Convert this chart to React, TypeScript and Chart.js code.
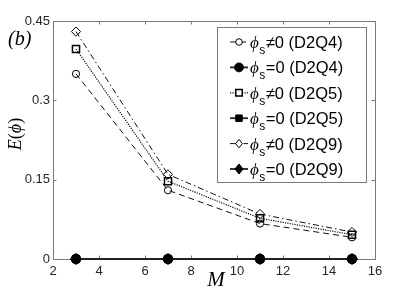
import React, { useEffect, useRef } from "react";
import { Chart, registerables } from "chart.js";

Chart.register(...registerables);

const mValues = [3, 7, 11, 15];
const d2q4NonZero = [0.35, 0.13, 0.067, 0.041];
const d2q4Zero = [0, 0, 0, 0];
const d2q5NonZero = [0.397, 0.147, 0.077, 0.046];
const d2q5Zero = [0, 0, 0, 0];
const d2q9NonZero = [0.43, 0.16, 0.085, 0.051];
const d2q9Zero = [0, 0, 0, 0];

const xTicks = [2, 4, 6, 8, 10, 12, 14, 16];
const yTicks = [0, 0.15, 0.3, 0.45];

const legendLabels = [
  { op: "≠0", model: "(D2Q4)" },
  { op: "=0", model: "(D2Q4)" },
  { op: "≠0", model: "(D2Q5)" },
  { op: "=0", model: "(D2Q5)" },
  { op: "≠0", model: "(D2Q9)" },
  { op: "=0", model: "(D2Q9)" },
];

const FRAME = "#7a7a7a";
const TEXT = "#262626";
const SANS = '"Liberation Sans", Arial, sans-serif';
const SERIF = '"Liberation Serif", "DejaVu Serif", "Times New Roman", serif';

const styles = [
  { dash: [6, 4], pointStyle: "circle", radius: 3.6, fill: "rgba(0,0,0,0)", width: 1, lineColor: "#111", pbw: 1 },
  { dash: [], pointStyle: "circle", radius: 4.8, fill: "#000", width: 1.8, lineColor: "#222", pbw: 1 },
  { dash: [1.2, 1.2], pointStyle: "rect", radius: 5, fill: "rgba(0,0,0,0)", width: 1.2, lineColor: "#111", pbw: 1.5 },
  { dash: [], pointStyle: "rect", radius: 5, fill: "#000", width: 1.8, lineColor: "#222", pbw: 1 },
  { dash: [6, 3, 1.5, 3], pointStyle: "rectRot", radius: 4.6, fill: "rgba(0,0,0,0)", width: 1, lineColor: "#111", pbw: 1 },
  { dash: [], pointStyle: "rectRot", radius: 5.5, fill: "#000", width: 1.8, lineColor: "#222", pbw: 1 },
];

const seriesValues = [d2q4NonZero, d2q4Zero, d2q5NonZero, d2q5Zero, d2q9NonZero, d2q9Zero];

function drawMarker(ctx: CanvasRenderingContext2D, style: string, r: number, x: number, y: number) {
  ctx.beginPath();
  if (style === "circle") {
    ctx.arc(x, y, r, 0, Math.PI * 2);
  } else if (style === "rect") {
    const h = r * Math.SQRT1_2;
    ctx.rect(x - h, y - h, 2 * h, 2 * h);
  } else {
    ctx.moveTo(x, y - r);
    ctx.lineTo(x + r * 0.8, y);
    ctx.lineTo(x, y + r);
    ctx.lineTo(x - r * 0.8, y);
    ctx.closePath();
  }
  ctx.fill();
  ctx.stroke();
}

const framePlugin = {
  id: "frame",
  beforeDatasetsDraw(chart: any) {
    const { ctx, chartArea: a, scales } = chart;
    ctx.save();
    ctx.strokeStyle = FRAME;
    ctx.lineWidth = 1;
    ctx.strokeRect(Math.round(a.left) + 0.5, Math.round(a.top) + 0.5, Math.round(a.right - a.left), Math.round(a.bottom - a.top));
    const tl = 3.5;
    ctx.beginPath();
    for (const v of xTicks) {
      const x = Math.round(scales.x.getPixelForValue(v)) + 0.5;
      ctx.moveTo(x, a.bottom);
      ctx.lineTo(x, a.bottom - tl);
      ctx.moveTo(x, a.top);
      ctx.lineTo(x, a.top + tl);
    }
    for (const v of yTicks) {
      const y = Math.round(scales.y.getPixelForValue(v)) + 0.5;
      ctx.moveTo(a.left, y);
      ctx.lineTo(a.left + tl, y);
      ctx.moveTo(a.right, y);
      ctx.lineTo(a.right - tl, y);
    }
    ctx.stroke();
    ctx.restore();
  },
  afterDraw(chart: any) {
    const { ctx } = chart;
    ctx.save();
    ctx.fillStyle = "#000";
    ctx.font = `italic 20px ${SERIF}`;
    ctx.textBaseline = "middle";
    ctx.textAlign = "left";
    ctx.fillText("(b)", 8, 40);
    ctx.font = `italic 21px ${SERIF}`;
    ctx.textAlign = "center";
    ctx.fillText("M", 216, 280);
    ctx.translate(16, 134);
    ctx.rotate(-Math.PI / 2);
    const parts = [
      { t: "E", f: `italic 18px ${SERIF}` },
      { t: "(", f: `18px ${SERIF}` },
      { t: "ϕ", f: `italic 18px ${SERIF}` },
      { t: ")", f: `18px ${SERIF}` },
    ];
    let total = 0;
    for (const p of parts) { ctx.font = p.f; total += ctx.measureText(p.t).width; }
    let x = -total / 2;
    ctx.textAlign = "left";
    for (const p of parts) { ctx.font = p.f; ctx.fillText(p.t, x, 0); x += ctx.measureText(p.t).width; }
    ctx.restore();

    ctx.save();
    const L = 217, R = 366, T = 27, B = 182;
    ctx.fillStyle = "#fff";
    ctx.fillRect(L, T, R - L, B - T);
    ctx.strokeStyle = FRAME;
    ctx.lineWidth = 1;
    ctx.strokeRect(L + 0.5, T + 0.5, R - L, B - T);
    const x0 = 230, x1 = 248, mx = 239, tx = 250;
    legendLabels.forEach((lab, i) => {
      const y = 42 + i * 25.4;
      const s = styles[i];
      ctx.save();
      ctx.strokeStyle = s.lineColor;
      ctx.lineWidth = s.width;
      ctx.setLineDash(s.dash);
      ctx.beginPath();
      ctx.moveTo(x0, y);
      ctx.lineTo(x1, y);
      ctx.stroke();
      ctx.setLineDash([]);
      ctx.fillStyle = s.fill === "rgba(0,0,0,0)" ? "#fff" : s.fill;
      ctx.strokeStyle = "#000";
      ctx.lineWidth = s.pbw;
      drawMarker(ctx, s.pointStyle, s.radius * 0.92, mx, y);
      ctx.restore();
      ctx.fillStyle = "#000";
      ctx.textBaseline = "alphabetic";
      ctx.textAlign = "left";
      const base = y + 6;
      let cx = tx;
      ctx.font = `italic 17px ${SERIF}`;
      ctx.fillText("ϕ", cx, base);
      cx += ctx.measureText("ϕ").width + 0.5;
      ctx.font = `12px ${SANS}`;
      ctx.fillText("s", cx, base + 6);
      cx += ctx.measureText("s").width + 0.5;
      ctx.font = `16.5px ${SANS}`;
      ctx.fillText(`${lab.op} ${lab.model}`, cx, base);
    });
    ctx.restore();
  },
};

export default function App() {
  const ref = useRef<HTMLCanvasElement>(null);
  useEffect(() => {
    document.body.style.margin = "0";
    const canvas = ref.current!;
    const datasets = seriesValues.map((vals, i) => {
      const s = styles[i];
      return {
        label: `${legendLabels[i].op} ${legendLabels[i].model}`,
        data: mValues.map((m, j) => ({ x: m, y: vals[j] })),
        borderColor: s.lineColor,
        borderWidth: s.width,
        borderDash: s.dash,
        pointStyle: s.pointStyle,
        pointRadius: s.radius,
        pointBackgroundColor: s.fill,
        pointBorderColor: "#000",
        pointBorderWidth: s.pbw,
        fill: false,
        tension: 0,
        clip: false,
      };
    });
    const chart = new Chart(canvas, {
      type: "line",
      data: { datasets },
      options: {
        animation: false,
        responsive: true,
        maintainAspectRatio: false,
        layout: { padding: { left: 0, right: 40, top: 21, bottom: 0 } },
        plugins: { legend: { display: false }, tooltip: { enabled: false } },
        scales: {
          x: {
            type: "linear",
            min: 2,
            max: 16,
            afterBuildTicks: (s: any) => { s.ticks = xTicks.map((v) => ({ value: v })); },
            afterFit: (s: any) => { s.height = 32; },
            grid: { display: false, drawTicks: false },
            border: { display: false },
            ticks: { color: TEXT, font: { family: SANS, size: 13 }, padding: 5, maxRotation: 0 },
          },
          y: {
            type: "linear",
            min: 0,
            max: 0.45,
            afterBuildTicks: (s: any) => { s.ticks = yTicks.map((v) => ({ value: v })); },
            afterFit: (s: any) => { s.width = 53; },
            grid: { display: false, drawTicks: false },
            border: { display: false },
            ticks: { color: TEXT, font: { family: SANS, size: 13 }, padding: 3, callback: (v: any) => String(v) },
          },
        },
      },
      plugins: [framePlugin],
    });
    return () => chart.destroy();
  }, []);
  return (
    <div style={{ width: 415, height: 291, position: "relative" }}>
      <canvas ref={ref} />
    </div>
  );
}
